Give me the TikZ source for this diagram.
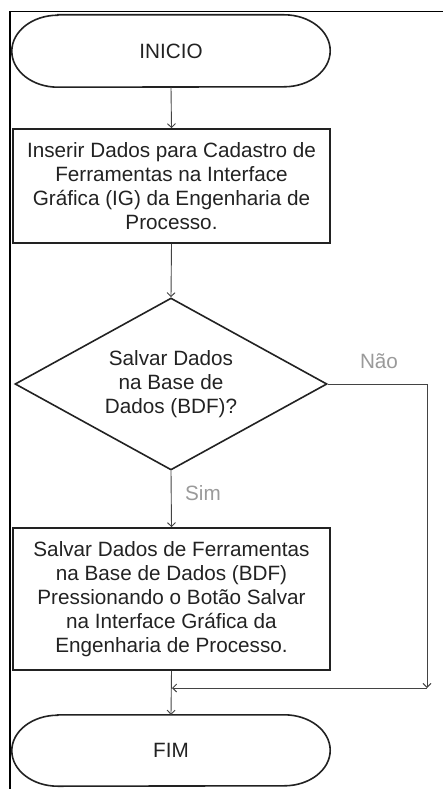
\documentclass[tikz,border=0pt]{standalone}
\usepackage{fontspec}
\setmainfont{Liberation Sans}
\usetikzlibrary{shapes.geometric,arrows.meta}
\definecolor{ink}{HTML}{222222}
\definecolor{lbl}{HTML}{9A9A9A}
\begin{document}
\begin{tikzpicture}[x=1pt,y=-1pt,
  txt/.style={font=\fontsize{20.7}{24}\selectfont, text=ink, align=center, inner sep=0pt},
  procbox/.style={txt, draw=ink, line width=1.6pt, rectangle, minimum width=317pt},
  termbox/.style={txt, rectangle, minimum width=318pt, minimum height=72pt},
  termline/.style={draw=ink, line width=1.6pt},
  decbox/.style={txt, draw=ink, line width=1.6pt, diamond, aspect=1.81, minimum width=312pt, minimum height=172pt},
  conn/.style={draw=ink!85, line width=0.9pt, -{Straight Barb[length=4pt,width=8pt]}},
  lab/.style={font=\fontsize{20.7}{24}\selectfont, text=lbl, inner sep=0pt}
]
\useasboundingbox (0,0) rectangle (443,789);
% frame
\coordinate (fbl) at (10,789);
\coordinate (ftl) at (10,11.5);
\coordinate (ftr) at (443,11.5);
\draw[line width=1.6pt, black] (fbl) -- (ftl) -- (ftr);

% INICIO terminator
\node[termbox] (ini) at (171,51) {INICIO};
\draw[termline] ([xshift=46pt]ini.north west) -- ([xshift=-46pt]ini.north east)
  arc[start angle=90, end angle=-90, x radius=46pt, y radius=36pt]
  -- ([xshift=46pt]ini.south west)
  arc[start angle=270, end angle=90, x radius=46pt, y radius=36pt] -- cycle;

% box 1
\node[procbox, minimum height=114pt] (b1) at (171.5,186)
  {Inserir Dados para Cadastro de\\Ferramentas na Interface\\Gráfica (IG) da Engenharia de\\Processo.};

% decision
\node[decbox] (dec) at (171,384) {Salvar Dados\\na Base de\\Dados (BDF)?};

% box 2
\node[procbox, minimum height=142pt] (b2) at (171.5,599)
  {Salvar Dados de Ferramentas\\na Base de Dados (BDF)\\Pressionando o Botão Salvar\\na Interface Gráfica da\\Engenharia de Processo.};

% FIM terminator
\node[termbox, minimum height=71pt] (fim) at (171,750.5) {FIM};
\draw[termline] ([xshift=46pt]fim.north west) -- ([xshift=-46pt]fim.north east)
  arc[start angle=90, end angle=-90, x radius=46pt, y radius=35.5pt]
  -- ([xshift=46pt]fim.south west)
  arc[start angle=270, end angle=90, x radius=46pt, y radius=35.5pt] -- cycle;

% connectors
\draw[conn] (ini.south) -- (b1.north);
\draw[conn] (b1.south) -- (dec.north);
\draw[conn] (dec.south) -- (b2.north);
\draw[conn] (b2.south) -- (fim.north);
\coordinate (jr) at (427,688);
\coordinate (jl) at (172,688);
\draw[conn] (dec.east) -| (jr);
\draw[conn] (jr) -- (jl);

% labels
\node[lab] (nao) at (379,361) {Não};
\node[lab] (sim) at (203,493) {Sim};
\end{tikzpicture}
\end{document}
